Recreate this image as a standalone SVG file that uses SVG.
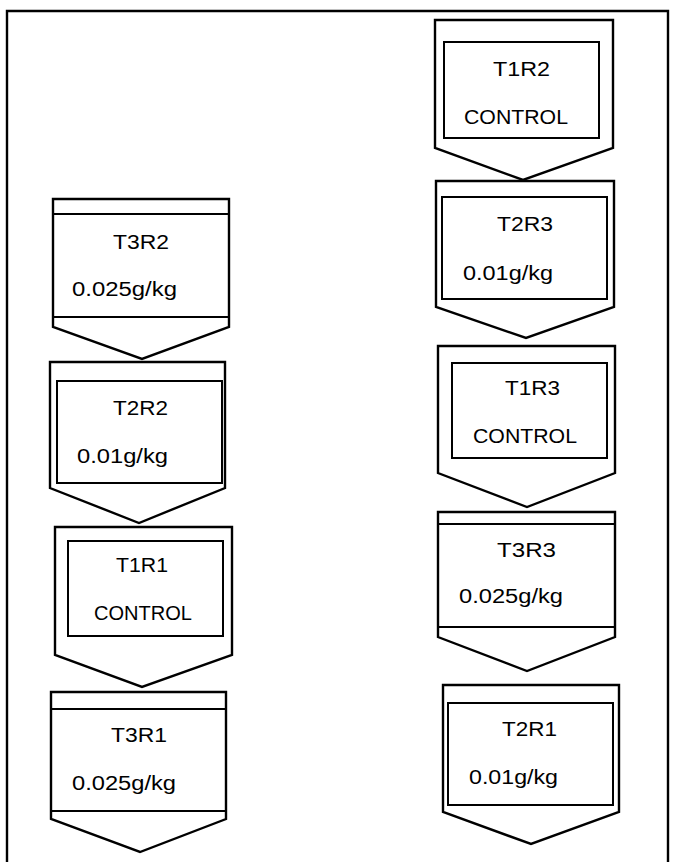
<svg xmlns="http://www.w3.org/2000/svg" width="675" height="862" viewBox="0 0 675 862">
<style>
.outer{fill:#fff;stroke:#000;stroke-width:2.4;stroke-linejoin:miter}
.inner{fill:none;stroke:#000;stroke-width:2}
.band{stroke:#000;stroke-width:2}
.frame{fill:none;stroke:#000;stroke-width:2.4}
.t{font-family:"Liberation Sans",Arial,sans-serif;font-size:21px;fill:#000}
.v{font-family:"Liberation Sans",Arial,sans-serif;font-size:20px;fill:#000}
</style>
<rect x="0" y="0" width="675" height="862" fill="#fff"/>
<polyline class="frame" points="7,862 7,11 668,11 668,862"/>
<g id="connectors"></g>

<g id="T1R2">
<path class="outer" d="M435,20 H613 V148 L523,180 L435,148 Z"/>
<rect class="inner" x="444" y="42" width="155" height="96"/>
<text class="t" x="493" y="76" textLength="57" lengthAdjust="spacingAndGlyphs">T1R2</text>
<text class="v" x="464" y="124" textLength="104" lengthAdjust="spacingAndGlyphs">CONTROL</text>
</g>

<g id="T2R3">
<path class="outer" d="M436,181 H614 V307 L526,338 L436,307 Z"/>
<rect class="inner" x="442" y="197" width="165" height="102"/>
<text class="t" x="497" y="231" textLength="56" lengthAdjust="spacingAndGlyphs">T2R3</text>
<text class="v" x="463" y="280" textLength="90" lengthAdjust="spacingAndGlyphs">0.01g/kg</text>
</g>

<g id="T1R3">
<path class="outer" d="M438,346 H615 V473 L527,507 L438,473 Z"/>
<rect class="inner" x="452" y="363" width="155" height="95"/>
<text class="t" x="505" y="395" textLength="55" lengthAdjust="spacingAndGlyphs">T1R3</text>
<text class="v" x="473" y="443" textLength="104" lengthAdjust="spacingAndGlyphs">CONTROL</text>
</g>

<g id="T3R3">
<path class="outer" d="M438,512 H615 V637 L527,671 L438,637 Z"/>
<line class="band" x1="438" y1="524" x2="615" y2="524"/>
<line class="band" x1="438" y1="627" x2="615" y2="627"/>
<text class="t" x="497" y="557" textLength="59" lengthAdjust="spacingAndGlyphs">T3R3</text>
<text class="v" x="459" y="603" textLength="104" lengthAdjust="spacingAndGlyphs">0.025g/kg</text>
</g>

<g id="T2R1">
<path class="outer" d="M443,685 H619 V812 L531,844 L443,812 Z"/>
<rect class="inner" x="448" y="703" width="165" height="102"/>
<text class="t" x="502" y="736" textLength="55" lengthAdjust="spacingAndGlyphs">T2R1</text>
<text class="v" x="469" y="784" textLength="89" lengthAdjust="spacingAndGlyphs">0.01g/kg</text>
</g>

<g id="T3R2">
<path class="outer" d="M53,199 H229 V327 L142,359 L53,327 Z"/>
<line class="band" x1="53" y1="214" x2="229" y2="214"/>
<line class="band" x1="53" y1="317" x2="229" y2="317"/>
<text class="t" x="113" y="249" textLength="56" lengthAdjust="spacingAndGlyphs">T3R2</text>
<text class="v" x="72" y="296" textLength="105" lengthAdjust="spacingAndGlyphs">0.025g/kg</text>
</g>

<g id="T2R2">
<path class="outer" d="M50,362 H225 V488 L139,523 L50,488 Z"/>
<rect class="inner" x="57" y="381" width="165" height="102"/>
<text class="t" x="113" y="415" textLength="55" lengthAdjust="spacingAndGlyphs">T2R2</text>
<text class="v" x="77" y="463" textLength="91" lengthAdjust="spacingAndGlyphs">0.01g/kg</text>
</g>

<g id="T1R1">
<path class="outer" d="M55,527 H232 V655 L142,687 L55,655 Z"/>
<rect class="inner" x="68" y="541" width="155" height="95"/>
<text class="t" x="116" y="572" textLength="52" lengthAdjust="spacingAndGlyphs">T1R1</text>
<text class="v" x="94" y="620" textLength="98" lengthAdjust="spacingAndGlyphs">CONTROL</text>
</g>

<g id="T3R1">
<path class="outer" d="M51,692 H226 V819 L140,852 L51,819 Z"/>
<line class="band" x1="51" y1="709" x2="226" y2="709"/>
<line class="band" x1="51" y1="811" x2="226" y2="811"/>
<text class="t" x="111" y="742" textLength="56" lengthAdjust="spacingAndGlyphs">T3R1</text>
<text class="v" x="72" y="790" textLength="104" lengthAdjust="spacingAndGlyphs">0.025g/kg</text>
</g>
</svg>
